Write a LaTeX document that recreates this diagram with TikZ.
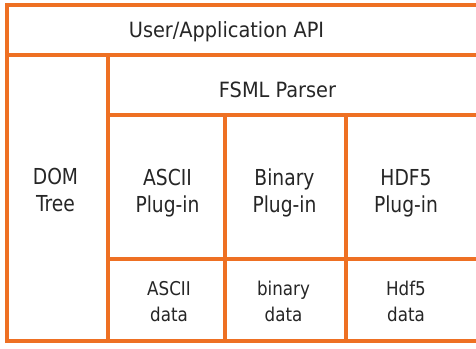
\documentclass[tikz,border=0pt]{standalone}
\usepackage{fontspec}
\setmainfont{DejaVu Sans}
\newfontfamily\fontA[FakeStretch=0.92]{DejaVu Sans}
\newfontfamily\fontB[FakeStretch=0.85]{DejaVu Sans}
\newfontfamily\fontC[FakeStretch=0.88]{DejaVu Sans}
\definecolor{frame}{RGB}{238,112,35}
\begin{document}
\begin{tikzpicture}[x=1pt,y=-1pt,
  grid/.style={draw=frame, line width=4pt},
  toplbl/.style={font=\fontA\fontsize{21}{27}\selectfont, inner sep=0pt, text=black!85, anchor=base},
  lbl/.style={font=\fontB\fontsize{22}{27}\selectfont, align=center, inner sep=0pt, text=black!85},
  dlbl/.style={font=\fontC\fontsize{19}{26}\selectfont, align=center, inner sep=0pt, text=black!85}]
\clip (0,0) rectangle (476,348);
\fill[white] (0,0) rectangle (476,348);
% grid
\draw[grid] (480,5) -- (6.5,5) -- (6.5,341) -- (480,341);
\draw[grid] (6.5,55) -- (480,55);
\draw[grid] (108,55) -- (108,341);
\draw[grid] (108,115) -- (480,115);
\draw[grid] (108,259) -- (480,259);
\draw[grid] (225,115) -- (225,341);
\draw[grid] (346,115) -- (346,341);
% labels
\node[toplbl] (api) at (226.5,37.5) {User/Application API};
\node[toplbl] (parser) at (277.5,97) {FSML Parser};
\node[lbl] (dom) at (55.5,189.5) {DOM\\Tree};
\node[lbl] (asciiP) at (167.5,193) {ASCII\\Plug-in};
\node[lbl] (binP) at (284.5,193) {Binary\\Plug-in};
\node[lbl] (hdfP) at (406,193) {HDF5\\Plug-in};
\node[dlbl] (asciiD) at (169,301.7) {ASCII\\data};
\node[dlbl] (binD) at (283.5,301.5) {binary\\data};
\node[dlbl] (hdfD) at (406,301.5) {Hdf5\\data};
\end{tikzpicture}
\end{document}
